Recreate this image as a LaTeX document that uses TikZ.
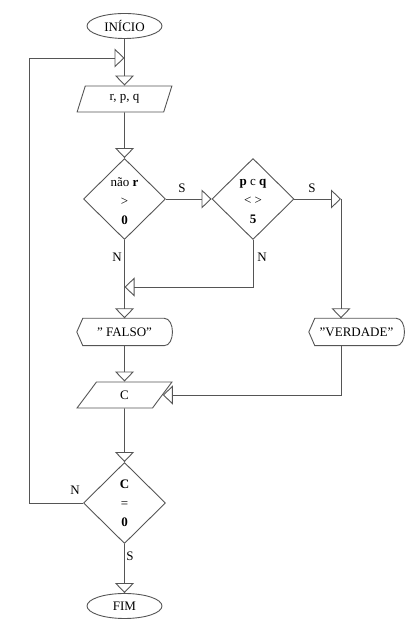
\documentclass[tikz,border=0pt]{standalone}
\usepackage{fontspec}
\setmainfont{Liberation Serif}[Ligatures=ResetAll]
\usetikzlibrary{shapes.geometric,arrows.meta}
\definecolor{lc}{HTML}{555555}
\newcommand{\sq}{\symbol{"22}}
\begin{document}
\begin{tikzpicture}[x=1pt,y=1pt,
  every node/.style={font=\fontsize{13}{19}\selectfont, text=black},
  ln/.style={draw=lc, line width=0.9pt},
  arr/.style={ln, -{Triangle[open,length=10pt,width=19pt]}},
  term/.style={ellipse, ln, minimum width=75pt, minimum height=25pt, inner sep=0pt},
  io/.style={trapezium, trapezium left angle=71, trapezium right angle=109, trapezium stretches=true, ln, minimum width=95pt, minimum height=26pt, inner sep=0pt},
  dec/.style={diamond, ln, minimum width=82pt, minimum height=81pt, inner sep=0pt},
  disp/.style={minimum width=95pt, minimum height=27pt, inner sep=0pt},
  lab/.style={inner sep=0pt}
]
\useasboundingbox (0,0) rectangle (419,644);
\node[term] (ini) at (124.5,618) {INÍCIO};
\node[io] (rpq) at (124.5,545) {r, p, q};
\node[dec, label={[align=center,yshift=-2pt]center:{não \textbf{r}\\>\\\textbf{0}}}] (d1) at (124.5,445) {};
\node[dec, label={[align=center,yshift=-2pt]center:{\textbf{p} c \textbf{q}\\< >\\\textbf{5}}}] (d2) at (253,445) {};
\node[disp] (fa) at (124.5,312) {\sq{} FALSO\sq};
\node[disp] (ve) at (356.5,312) {\sq VERDADE\sq};
\foreach \n in {fa,ve}
  \draw[ln] (\n.west) -- ([xshift=6pt]\n.north west) -- ([xshift=-8pt]\n.north east)
    .. controls ([xshift=3pt]\n.north east) and ([xshift=3pt]\n.south east) .. ([xshift=-8pt]\n.south east)
    -- ([xshift=6pt]\n.south west) -- cycle;
\node[io] (cc) at (124.5,249) {C};
\node[dec, label={[align=center]center:{\textbf{C}\\=\\\textbf{0}}}] (d3) at (124.5,141) {};
\node[term] (fim) at (124.5,38) {FIM};
% labels
\node[lab] (s1) at (182,456) {S};
\node[lab] (s2) at (312,456) {S};
\node[lab] (n1) at (117,387) {N};
\node[lab] (n2) at (262,387) {N};
\node[lab] (n3) at (75,154) {N};
\node[lab] (s3) at (130,88) {S};
% coordinates
\coordinate (vr) at (341,445);
\coordinate (j1) at (124.5,357);
\coordinate (lc) at (29,586);
\coordinate (lp) at (124.5,586);
% connectors
\draw[arr] (ini.south) -- (rpq.north);
\draw[arr] (rpq.south) -- (d1.north);
\draw[arr] (d1.east) -- (d2.west);
\draw[arr] (d2.east) -- (vr);
\draw[arr] (vr) -- (vr |- ve.north);
\draw[arr] (d2.south) |- (j1);
\draw[arr] (d1.south) -- (fa.north);
\draw[arr] (fa.south) -- (cc.north);
\draw[arr] (vr |- ve.south) |- (cc.east);
\draw[arr] (cc.south) -- (d3.north);
\draw[arr] (d3.south) -- (fim.north);
\draw[ln] (d3.west) -| (lc);
\draw[arr] (lc) -- (lp);
\end{tikzpicture}
\end{document}
